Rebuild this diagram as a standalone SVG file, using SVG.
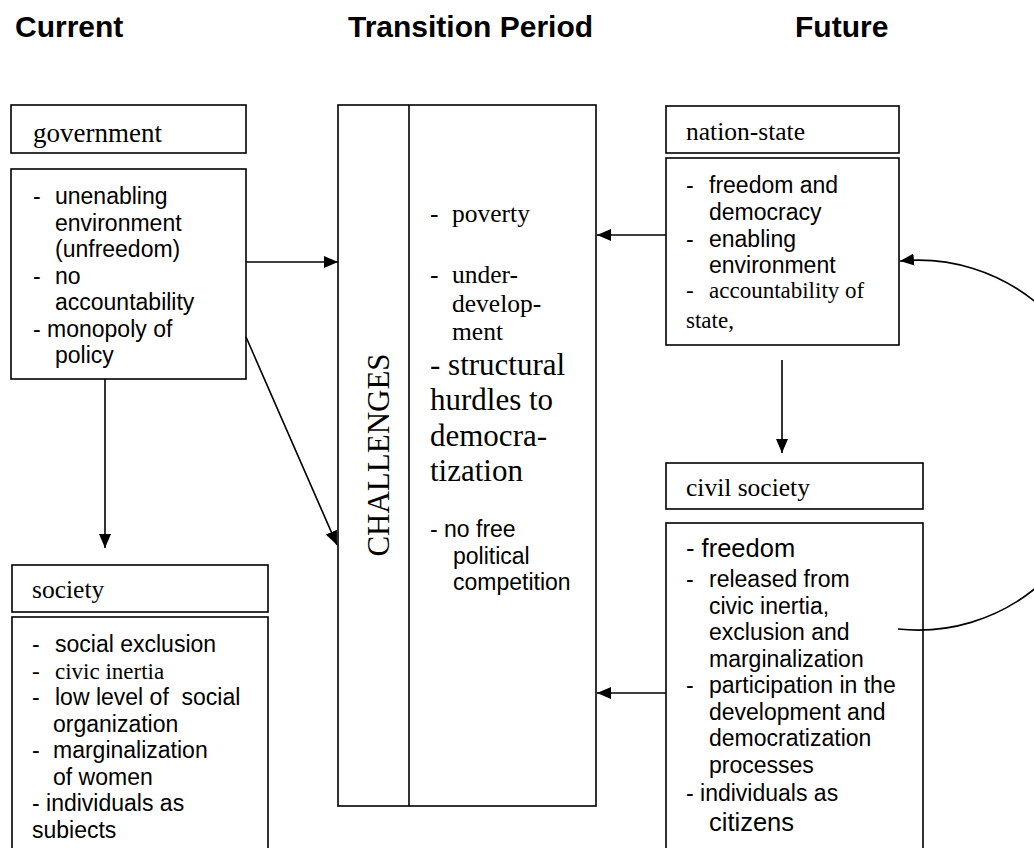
<svg xmlns="http://www.w3.org/2000/svg" width="1034" height="848" viewBox="0 0 1034 848">
<style>
.box{fill:#fff;stroke:#000;stroke-width:1.6}
.h{font-family:"Liberation Sans",Arial,sans-serif;font-weight:bold;font-size:30px;fill:#000}
.a{font-family:"Liberation Sans",Arial,sans-serif;font-size:23px;fill:#000}
.al{font-family:"Liberation Sans",Arial,sans-serif;font-size:25.5px;fill:#000}
.s{font-family:"Liberation Serif","Times New Roman",serif;fill:#000}
.ttl{font-size:25.5px}
.con{fill:none;stroke:#000;stroke-width:1.6}
</style>
<defs>
<marker id="arr" viewBox="0 0 14 12" refX="14" refY="6" markerWidth="14" markerHeight="12" markerUnits="userSpaceOnUse" orient="auto">
<path d="M0,0 L14,6 L0,12 z" fill="#000"/>
</marker>
</defs>
<rect width="1034" height="848" fill="#fff"/>
<g id="headers">
<text class="h" x="15" y="37">Current</text>
<text class="h" x="348" y="37">Transition Period</text>
<text class="h" x="795" y="37">Future</text>
</g>
<g id="government">
<rect class="box" x="11" y="105" width="235" height="48"/>
<text class="s" x="33" y="142" font-size="27">government</text>
</g>
<g id="government-content">
<rect class="box" x="11" y="169" width="235" height="210"/>
<text class="a"><tspan x="33" y="204">-</tspan><tspan x="55" y="204">unenabling</tspan><tspan x="55" y="230.5">environment</tspan><tspan x="55" y="257">(unfreedom)</tspan><tspan x="33" y="283.5">-</tspan><tspan x="55" y="283.5">no</tspan><tspan x="55" y="310">accountability</tspan><tspan x="33" y="336.5">- monopoly of</tspan><tspan x="55" y="363">policy</tspan></text>
</g>
<g id="society">
<rect class="box" x="12" y="565" width="256" height="47"/>
<text class="s ttl" x="32" y="598">society</text>
</g>
<g id="society-content">
<rect class="box" x="12" y="617" width="256" height="245"/>
<text class="a"><tspan x="32" y="652">-</tspan><tspan x="55" y="652">social exclusion</tspan></text>
<text class="s" font-size="23"><tspan x="32" y="678.5">-</tspan><tspan x="55" y="678.5">civic inertia</tspan></text>
<text class="a" xml:space="preserve"><tspan x="32" y="705">-</tspan><tspan x="55" y="705">low level of  social</tspan></text>
<text class="a"><tspan x="53" y="731.5">organization</tspan><tspan x="32" y="758">-</tspan><tspan x="53" y="758">marginalization</tspan><tspan x="53" y="784.5">of women</tspan><tspan x="32" y="811">- individuals as</tspan><tspan x="32" y="837.5">subiects</tspan></text>
</g>
<g id="challenges">
<rect class="box" x="338" y="105" width="258" height="701"/>
<line x1="409" y1="105" x2="409" y2="806" stroke="#000" stroke-width="1.6"/>
<text class="s" font-size="31" text-anchor="middle" transform="translate(389,455) rotate(-90)">CHALLENGES</text>
<text class="s" font-size="25.5"><tspan x="430" y="222">-</tspan><tspan x="452" y="222">poverty</tspan><tspan x="430" y="283">-</tspan><tspan x="452" y="283">under-</tspan><tspan x="452" y="311.5">develop-</tspan><tspan x="452" y="340">ment</tspan></text>
<text class="s" font-size="31"><tspan x="430" y="375">- structural</tspan><tspan x="430" y="410">hurdles to</tspan><tspan x="430" y="445.5">democra-</tspan><tspan x="430" y="481">tization</tspan></text>
<text class="a"><tspan x="430" y="537">- no free</tspan><tspan x="453" y="563.5">political</tspan><tspan x="453" y="590">competition</tspan></text>
</g>
<g id="nation-state">
<rect class="box" x="666" y="106" width="233" height="47"/>
<text class="s ttl" x="686" y="140">nation-state</text>
</g>
<g id="nation-state-content">
<rect class="box" x="666" y="158" width="233" height="187"/>
<text class="a"><tspan x="686" y="193">-</tspan><tspan x="709" y="193">freedom and</tspan><tspan x="709" y="220">democracy</tspan><tspan x="686" y="247">-</tspan><tspan x="709" y="247">enabling</tspan><tspan x="709" y="273">environment</tspan></text>
<text class="s" font-size="23"><tspan x="686" y="298">-</tspan><tspan x="709" y="298">accountability of</tspan><tspan x="686" y="328">state,</tspan></text>
</g>
<g id="civil-society">
<rect class="box" x="666" y="463" width="257" height="46"/>
<text class="s ttl" x="686" y="496">civil society</text>
</g>
<g id="civil-society-content">
<rect class="box" x="666" y="523" width="257" height="340"/>
<text class="al" x="686" y="557">- freedom</text>
<text class="a"><tspan x="686" y="587">-</tspan><tspan x="709" y="587">released from</tspan><tspan x="709" y="613.5">civic inertia,</tspan><tspan x="709" y="640">exclusion and</tspan><tspan x="709" y="666.5">marginalization</tspan><tspan x="686" y="693">-</tspan><tspan x="709" y="693">participation in the</tspan><tspan x="709" y="719.5">development and</tspan><tspan x="709" y="746">democratization</tspan><tspan x="709" y="772.5">processes</tspan><tspan x="686" y="801">- individuals as</tspan></text>
<text class="al" x="709" y="831">citizens</text>
</g>
<g id="connectors">
<path class="con" d="M246,262 H338" marker-end="url(#arr)"/>
<path class="con" d="M246,337 L337,545" marker-end="url(#arr)"/>
<path class="con" d="M105,379 V548" marker-end="url(#arr)"/>
<path class="con" d="M666,235 H597" marker-end="url(#arr)"/>
<path class="con" d="M666,693 H597" marker-end="url(#arr)"/>
<path class="con" d="M782,360 V453" marker-end="url(#arr)"/>
<path class="con" d="M898,629 A185,185 0 1 0 900,261" marker-end="url(#arr)"/>
</g>
</svg>
